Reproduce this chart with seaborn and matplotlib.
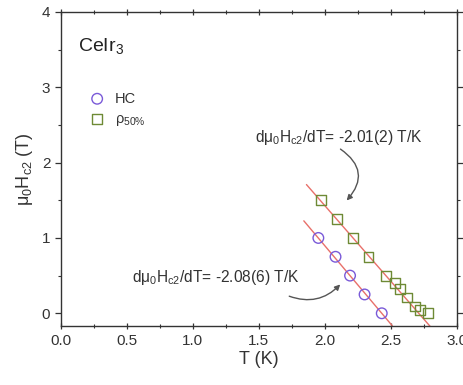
import numpy as np
import pandas as pd
import matplotlib
matplotlib.use("Agg")
import matplotlib.pyplot as plt
from matplotlib.ticker import MultipleLocator
import seaborn as sns

# Upper critical field from heat capacity (HC) and 50% resistivity criterion
hc_T = [1.95, 2.08, 2.19, 2.30, 2.43]
hc_H = [1.00, 0.75, 0.50, 0.25, 0.00]

rho_T = [1.97, 2.09, 2.21, 2.33, 2.46, 2.53, 2.57, 2.62, 2.68, 2.72, 2.78]
rho_H = [1.50, 1.25, 1.00, 0.75, 0.50, 0.40, 0.32, 0.21, 0.09, 0.04, 0.00]

# Linear fits: slopes (T/K) and zero-field intercepts (K)
slope_hc, tc_hc = -2.08, 2.43
slope_rho, tc_rho = -2.01, 2.71
fit_hc_T = [1.84, 2.51]
fit_rho_T = [1.86, 2.80]

sns.set_theme(style="ticks")
plt.rcParams["font.family"] = ["Liberation Sans", "DejaVu Sans"]
plt.rcParams["mathtext.fontset"] = "custom"
plt.rcParams["mathtext.rm"] = "Liberation Sans"
plt.rcParams["mathtext.it"] = "Liberation Sans"

fig = plt.figure(figsize=(4.64, 3.85), dpi=100)
ax = fig.add_axes([0.131, 0.153, 0.854, 0.816])

fit_hc = pd.DataFrame({"T": fit_hc_T})
fit_hc["H"] = slope_hc * (fit_hc["T"] - tc_hc)
fit_rho = pd.DataFrame({"T": fit_rho_T})
fit_rho["H"] = slope_rho * (fit_rho["T"] - tc_rho)

line_color = "#e8706a"
sns.lineplot(data=fit_hc, x="T", y="H", ax=ax, color=line_color, lw=1.0, zorder=1)
sns.lineplot(data=fit_rho, x="T", y="H", ax=ax, color=line_color, lw=1.0, zorder=1)

hc_df = pd.DataFrame({"T": hc_T, "H": hc_H})
rho_df = pd.DataFrame({"T": rho_T, "H": rho_H})
circ_color = "#7a5ad8"
sq_color = "#6e8a35"
sns.scatterplot(data=hc_df, x="T", y="H", ax=ax, marker="o", s=58,
                facecolor="none", edgecolor=circ_color, linewidth=1.0,
                label="HC", zorder=3)
sns.scatterplot(data=rho_df, x="T", y="H", ax=ax, marker="s", s=50,
                facecolor="none", edgecolor=sq_color, linewidth=1.0,
                label=r"$\rho_{50\%}$", zorder=3)

ax.set_xlim(0, 3.0)
ax.set_ylim(-0.17, 4.0)
ax.xaxis.set_major_locator(MultipleLocator(0.5))
ax.xaxis.set_minor_locator(MultipleLocator(0.25))
ax.yaxis.set_major_locator(MultipleLocator(1))
ax.yaxis.set_minor_locator(MultipleLocator(0.5))
ax.set_xticklabels([f"{v:.1f}" for v in ax.get_xticks()])

for side in ["left", "right", "top", "bottom"]:
    ax.spines[side].set_visible(True)
    ax.spines[side].set_color("#333333")
    ax.spines[side].set_linewidth(1.0)
ax.tick_params(which="both", top=True, right=True, color="#333333",
               labelsize=11, labelcolor="#333333")
ax.tick_params(which="major", length=4, width=0.9)
ax.tick_params(which="minor", length=2.5, width=0.8)
ax.tick_params(which="both", axis="x", direction="inout")
ax.tick_params(which="both", axis="y", direction="out")

ax.set_xlabel("T (K)", fontsize=13, color="#333333", labelpad=2)
ax.set_ylabel(r"$\mu_0$H$_{c2}$ (T)", fontsize=13, color="#333333", labelpad=5)

ax.text(0.13, 3.55, r"CeIr$_3$", fontsize=14, color="#222222", va="center")

leg = ax.legend(loc="upper left", bbox_to_anchor=(0.055, 0.765), frameon=False,
                fontsize=10.5, handletextpad=0.6, labelspacing=0.45,
                borderaxespad=0, handlelength=1.2)
for t in leg.get_texts():
    t.set_color("#333333")

ax.text(1.47, 2.33, r"d$\mu_0$H$_{c2}$/dT= -2.01(2) T/K", fontsize=11.2,
        color="#333333", va="center")
ax.annotate("", xy=(2.15, 1.47), xytext=(2.10, 2.20),
            arrowprops=dict(arrowstyle="-|>", color="#555555", lw=1.0,
                            mutation_scale=8,
                            connectionstyle="arc3,rad=-0.6"))

ax.text(0.54, 0.47, r"d$\mu_0$H$_{c2}$/dT= -2.08(6) T/K", fontsize=11.2,
        color="#333333", va="center")
ax.annotate("", xy=(2.13, 0.41), xytext=(1.71, 0.24),
            arrowprops=dict(arrowstyle="-|>", color="#555555", lw=1.0,
                            mutation_scale=8,
                            connectionstyle="arc3,rad=0.35"))

fig.savefig("out.png", dpi=100)
